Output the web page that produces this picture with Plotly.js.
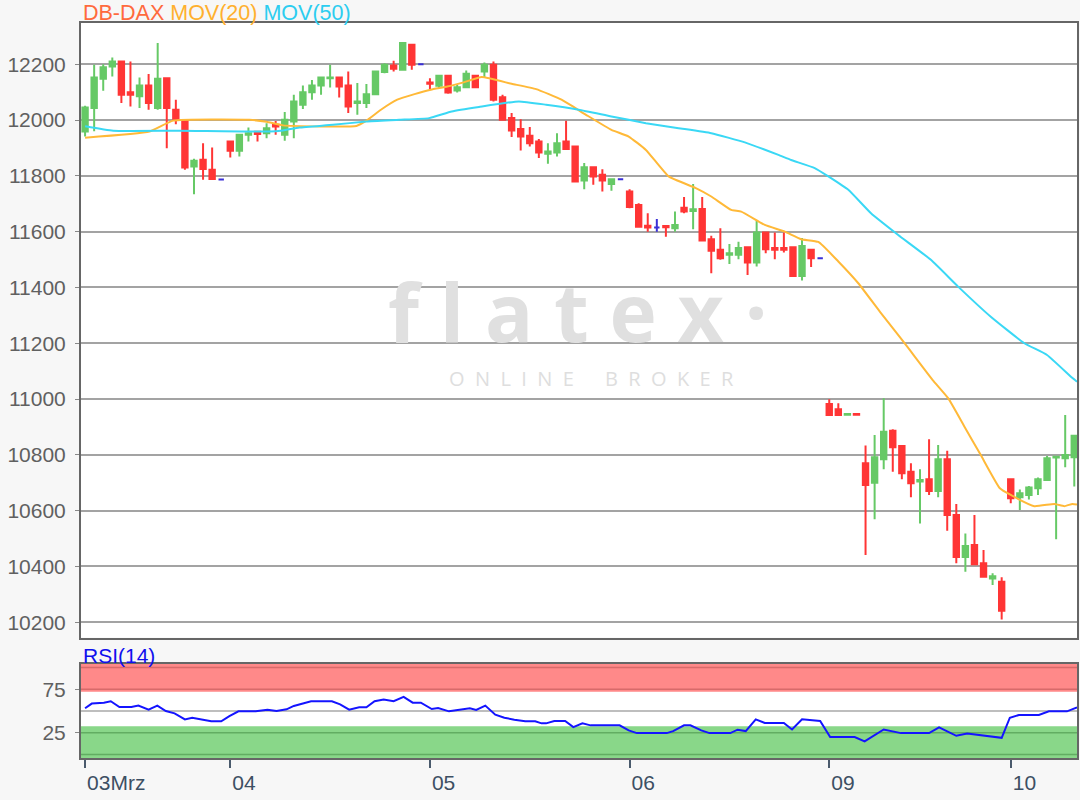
<!DOCTYPE html>
<html><head><meta charset="utf-8">
<script src="https://cdn.plot.ly/plotly-3.0.1.min.js"></script>
<style>html,body{margin:0;padding:0;background:#f7f7f7;} #chart{width:1080px;height:800px;}</style>
</head><body><div id="chart"></div>
<script>
// ---- data ----
const tickIdx = [0, 16, 38, 60, 82, 102];
const tickLabels = ['03Mrz', '04', '05', '06', '09', '10'];
const yTicks = [10200, 10400, 10600, 10800, 11000, 11200, 11400, 11600, 11800, 12000, 12200];

const open = [11959,12043,12148,12192,12210,12100,12085,12124,12043,12150,12037,11997,11834,11858,11822,11787,
11923,11890,11947,11958,11953,11983,11947,11995,12055,12100,12124,12150,12153,12124,12061,12061,12093,12172,12196,12180,12270,12200,
12135,12123,12159,12106,12118,12159,12174,12198,12082,12007,11968,11944,11923,11879,11884,11923,11905,11783,11831,11804,11771,11788,
11744,11696,11621,11615,11620,11612,11686,11674,11681,11573,11535,11517,11517,11544,11489,11597,11541,11541,11544,11441,11535,11505,
10982,10963,10944,10946,10770,10700,10784,10886,10832,10739,10704,10712,10670,10784,10584,10434,10477,10411,10357,10345,
10712,10648,10656,10680,10710,10790,10788,10791];
const high = [12051,12198,12200,12224,12212,12210,12153,12165,12276,12153,12073,12003,11861,11917,11902,11787,
11923,11950,11973,11962,11989,11997,12029,12091,12124,12144,12155,12198,12155,12174,12133,12129,12177,12204,12213,12278,12272,12200,
12150,12160,12160,12126,12178,12160,12206,12210,12091,12025,12003,11975,11932,11917,11953,11998,11908,11846,11832,11824,11790,11788,
11752,11702,11666,11645,11624,11672,11724,11771,11724,11585,11612,11556,11564,11548,11640,11600,11597,11597,11548,11577,11537,11505,
10999,10985,10946,10946,10833,10871,11003,10892,10835,10770,10748,10856,10835,10815,10624,10518,10584,10459,10375,10361,
10716,10676,10688,10719,10796,10796,10943,10870];
const low = [11941,11960,12105,12156,12061,12049,12043,12037,12037,11899,11985,11822,11734,11786,11789,11787,
11866,11869,11923,11923,11935,11947,11926,11935,12040,12073,12091,12117,12081,12025,12019,12043,12090,12168,12174,12177,12180,12200,
12109,12115,12094,12099,12115,12117,12154,12067,11998,11939,11891,11905,11864,11843,11869,11893,11776,11752,11768,11744,11747,11788,
11684,11618,11600,11600,11582,11600,11666,11609,11568,11451,11499,11484,11501,11445,11475,11523,11501,11525,11439,11425,11473,11505,
10943,10941,10944,10944,10441,10569,10748,10739,10712,10648,10554,10656,10648,10528,10411,10381,10408,10363,10333,10210,
10626,10602,10640,10656,10710,10497,10755,10686];
const close = [12045,12153,12189,12210,12091,12091,12124,12061,12148,12043,12005,11830,11854,11825,11789,11787,
11890,11947,11953,11950,11971,11977,12001,12067,12100,12124,12153,12153,12120,12049,12067,12093,12174,12198,12184,12276,12198,12200,
12130,12159,12099,12118,12166,12118,12198,12073,12001,11963,11941,11917,11884,11887,11917,11896,11780,11831,11798,11783,11788,11788,
11688,11618,11615,11615,11616,11624,11672,11680,11568,11532,11505,11523,11541,11489,11597,11537,11535,11535,11441,11549,11505,11505,
10943,10943,10946,10944,10692,10791,10883,10827,10734,10698,10710,10670,10784,10584,10434,10473,10408,10363,10365,10241,
10644,10662,10683,10712,10788,10793,10799,10868];

const ma20X = [0,7.1,9.7,18.1,20,21.8,29.9,31,32.6,34.4,36.3,38.1,39.9,41.8,43.7,47,49.7,52.5,55.2,58,59.9,61.8,64.3,67.3,69,71.2,72.3,74.9,77.1,78.9,80.8,83,85.2,87.7,90.3,93.4,95.1,96.9,98.7,100.8,102,104.6,106.8,107.9,108.8,109.3];
const ma20 = [11937,11959,11998,12001,11994,11981,11979,11998,12037,12073,12093,12109,12120,12136,12154,12130,12111,12073,12019,11965,11941,11893,11798,11756,11726,11678,11672,11624,11600,11573,11563,11493,11415,11308,11200,11068,11003,10901,10799,10680,10656,10616,10624,10616,10624,10622];
const ma50X = [0,3.1,10.4,20.3,21.8,23.6,27.3,31,34.6,37.9,40.4,43.4,47.8,50.8,54.4,58,61.8,65.4,69,72.7,76.4,77.8,80.4,81.9,84.1,86.6,89.6,93.2,96.2,99.8,103.5,106,108.8,109.3];
const ma50 = [11978,11962,11962,11959,11963,11973,11983,11995,12001,12007,12031,12047,12067,12055,12037,12013,11989,11971,11953,11920,11875,11857,11828,11798,11750,11666,11588,11499,11403,11295,11200,11158,11075,11062];
const rsiX = [0,0.74,2.07,2.83,3.78,5.1,5.87,7,7.96,8.9,9.86,11,11.8,12.7,13.9,15,15.9,16.9,18.8,20.1,21.1,22.2,23,24.9,27.2,28.1,29.1,30.2,31,31.9,32.9,34,35.1,36.1,37,38.2,38.9,40.1,41.2,42.4,43.1,44.1,45.2,46.2,47.3,48.5,49.6,50.3,
50.8,51.7,52.9,53.8,54.8,55.7,58.9,59.9,60.8,64.1,64.8,66,66.7,67.9,68.8,71.1,71.9,72.8,73.9,74.9,77,77.9,79,81,82.1,84.8,85.9,88,89.9,93,94.1,96,97.2,99.1,101,101.9,102.9,105.1,106.2,108.2,109.3];
const rsi = [53.1,58.5,59.6,61.2,54.6,54.6,56.2,51.5,56.2,50,47.3,40.4,42.3,40.8,38.1,38.1,44.2,49.6,49.6,51.5,50,51.9,55.8,61.2,61.2,57.7,51.5,54.2,54.2,61.2,63.1,61.2,66.2,59.6,59.6,52.3,53.5,49.6,51.5,53.1,51.2,56.2,45.8,42.3,40,38.1,38.1,35.8,
35.8,38.5,38.5,31.5,35.8,33.5,33.5,27.7,24.6,24.6,26.9,33.5,33.5,27.7,24.6,24.6,28.5,26.9,40.4,36.2,36.2,28.8,40.4,38.5,20,20,15,28.8,24.6,24.6,31.2,21.5,24.2,21.9,19.2,42.3,45.4,45.4,49.6,49.6,54.2];

// ---- build traces ----
const idx = open.map((_, i) => i);
const normal = idx.filter(i => open[i] !== close[i]);
const doji = idx.filter(i => open[i] === close[i]);
const pick = (arr, ids) => ids.map(i => arr[i]);

const GREEN = '#66c966', RED = '#ff3535', BLUE = '#3a2fd6';
const FONT = 'Liberation Sans, Arial, sans-serif';

const traces = [
  {type:'scatter', mode:'lines', x:ma20X, y:ma20, xaxis:'x', yaxis:'y',
   line:{color:'#ffb938', width:2, shape:'spline', smoothing:0.4}, hoverinfo:'skip'},
  {type:'scatter', mode:'lines', x:ma50X, y:ma50, xaxis:'x', yaxis:'y',
   line:{color:'#3ad8f5', width:2, shape:'spline', smoothing:0.4}, hoverinfo:'skip'},
  {type:'candlestick', x:normal, open:pick(open,normal), high:pick(high,normal), low:pick(low,normal), close:pick(close,normal),
   xaxis:'x', yaxis:'y', whiskerwidth:0,
   increasing:{line:{color:GREEN, width:2}, fillcolor:GREEN},
   decreasing:{line:{color:RED, width:2}, fillcolor:RED}},
  {type:'candlestick', x:doji, open:pick(open,doji), high:pick(high,doji), low:pick(low,doji), close:pick(close,doji),
   xaxis:'x', yaxis:'y', whiskerwidth:0,
   increasing:{line:{color:BLUE, width:2}, fillcolor:BLUE},
   decreasing:{line:{color:BLUE, width:2}, fillcolor:BLUE}},
  {type:'scatter', mode:'lines', x:rsiX, y:rsi, xaxis:'x2', yaxis:'y2',
   line:{color:'#1414ff', width:2}, hoverinfo:'skip'}
];

const bandLine = (y, color) => ({type:'line', xref:'x2 domain', x0:0, x1:1, yref:'y2', y0:y, y1:y, line:{color:color, width:1.5}, layer:'below'});
const shapes = [
  {type:'rect', xref:'x2 domain', x0:0, x1:1, yref:'y2', y0:72, y1:104, fillcolor:'#ff8989', line:{width:0}, layer:'below'},
  {type:'rect', xref:'x2 domain', x0:0, x1:1, yref:'y2', y0:-4, y1:32.5, fillcolor:'#89d789', line:{width:0}, layer:'below'},
  bandLine(100, '#d86a6a'), bandLine(75, '#d86a6a'),
  bandLine(25, '#62ad62'), bandLine(0, '#62ad62'),
  bandLine(50, '#a8a8a8')
];

const annotations = [
  {xref:'paper', yref:'paper', x:0, y:1.0136, xanchor:'left', yanchor:'middle', showarrow:false,
   text:'<span style="color:#ff6a3d">DB-DAX</span> <span style="color:#ffb02e">MOV(20)</span> <span style="color:#2ccdf0">MOV(50)</span>',
   font:{size:21.5, family:FONT}},
  {xref:'paper', yref:'paper', x:0, y:0.1401, xanchor:'left', yanchor:'middle', showarrow:false,
   text:'RSI(14)', font:{size:21, color:'#1010ee', family:FONT}},
  {xref:'paper', yref:'paper', x:0.498, y:0.6095, xanchor:'center', yanchor:'middle', showarrow:false,
   text:'f l a t e x ·', font:{size:80, color:'#e0e0e0', family:'Open Sans, sans-serif', weight:700}},
  {xref:'paper', yref:'paper', x:0.513, y:0.517, xanchor:'center', yanchor:'middle', showarrow:false,
   text:'O&nbsp; N&nbsp; L&nbsp; I&nbsp; N&nbsp; E&nbsp; &nbsp; &nbsp; B&nbsp; R&nbsp; O&nbsp; K&nbsp; E&nbsp; R',
   font:{size:20, color:'#dedede', family:'Open Sans, sans-serif'}}
];

const layout = {
  width:1080, height:800,
  margin:{l:81, r:3, t:23, b:42},
  paper_bgcolor:'#f7f7f7', plot_bgcolor:'#ffffff',
  showlegend:false, hovermode:false,
  font:{family:FONT},
  boxgap:0.15,
  xaxis:{range:[-0.45, 109.3], anchor:'y', showticklabels:false, ticks:'',
    showgrid:false, zeroline:false, showline:true, linecolor:'#666666', linewidth:2, mirror:true,
    rangeslider:{visible:false}, fixedrange:true},
  xaxis2:{range:[-0.45, 109.3], anchor:'y2', matches:'x', tickvals:tickIdx, ticktext:tickLabels,
    ticks:'outside', ticklen:8, tickwidth:2, tickcolor:'#4a5a6c',
    ticklabelposition:'outside right', ticklabelstandoff:5, tickfont:{size:21, color:'#3d4f63'},
    showgrid:false, zeroline:false, showline:true, linecolor:'#666666', linewidth:2, mirror:true,
    fixedrange:true},
  yaxis:{domain:[0.1639, 1], range:[10145, 12348], tickvals:yTicks, tickformat:'d', anchor:'x',
    ticks:'outside', ticklen:4, tickcolor:'#888888', tickfont:{size:21, color:'#606060'},
    ticklabelstandoff:5,
    gridcolor:'#a3a3a3', gridwidth:2, zeroline:false, showline:true, linecolor:'#666666', linewidth:2, mirror:true},
  yaxis2:{domain:[0, 0.1279], range:[-4, 104], tickvals:[25, 75], anchor:'x2',
    ticks:'outside', ticklen:4, tickcolor:'#888888', tickfont:{size:21, color:'#606060'},
    ticklabelstandoff:5,
    showgrid:false, zeroline:false, showline:true, linecolor:'#666666', linewidth:2, mirror:true},
  shapes:shapes,
  annotations:annotations
};

Plotly.newPlot('chart', traces, layout, {displayModeBar:false, staticPlot:true});
</script>
</body></html>
